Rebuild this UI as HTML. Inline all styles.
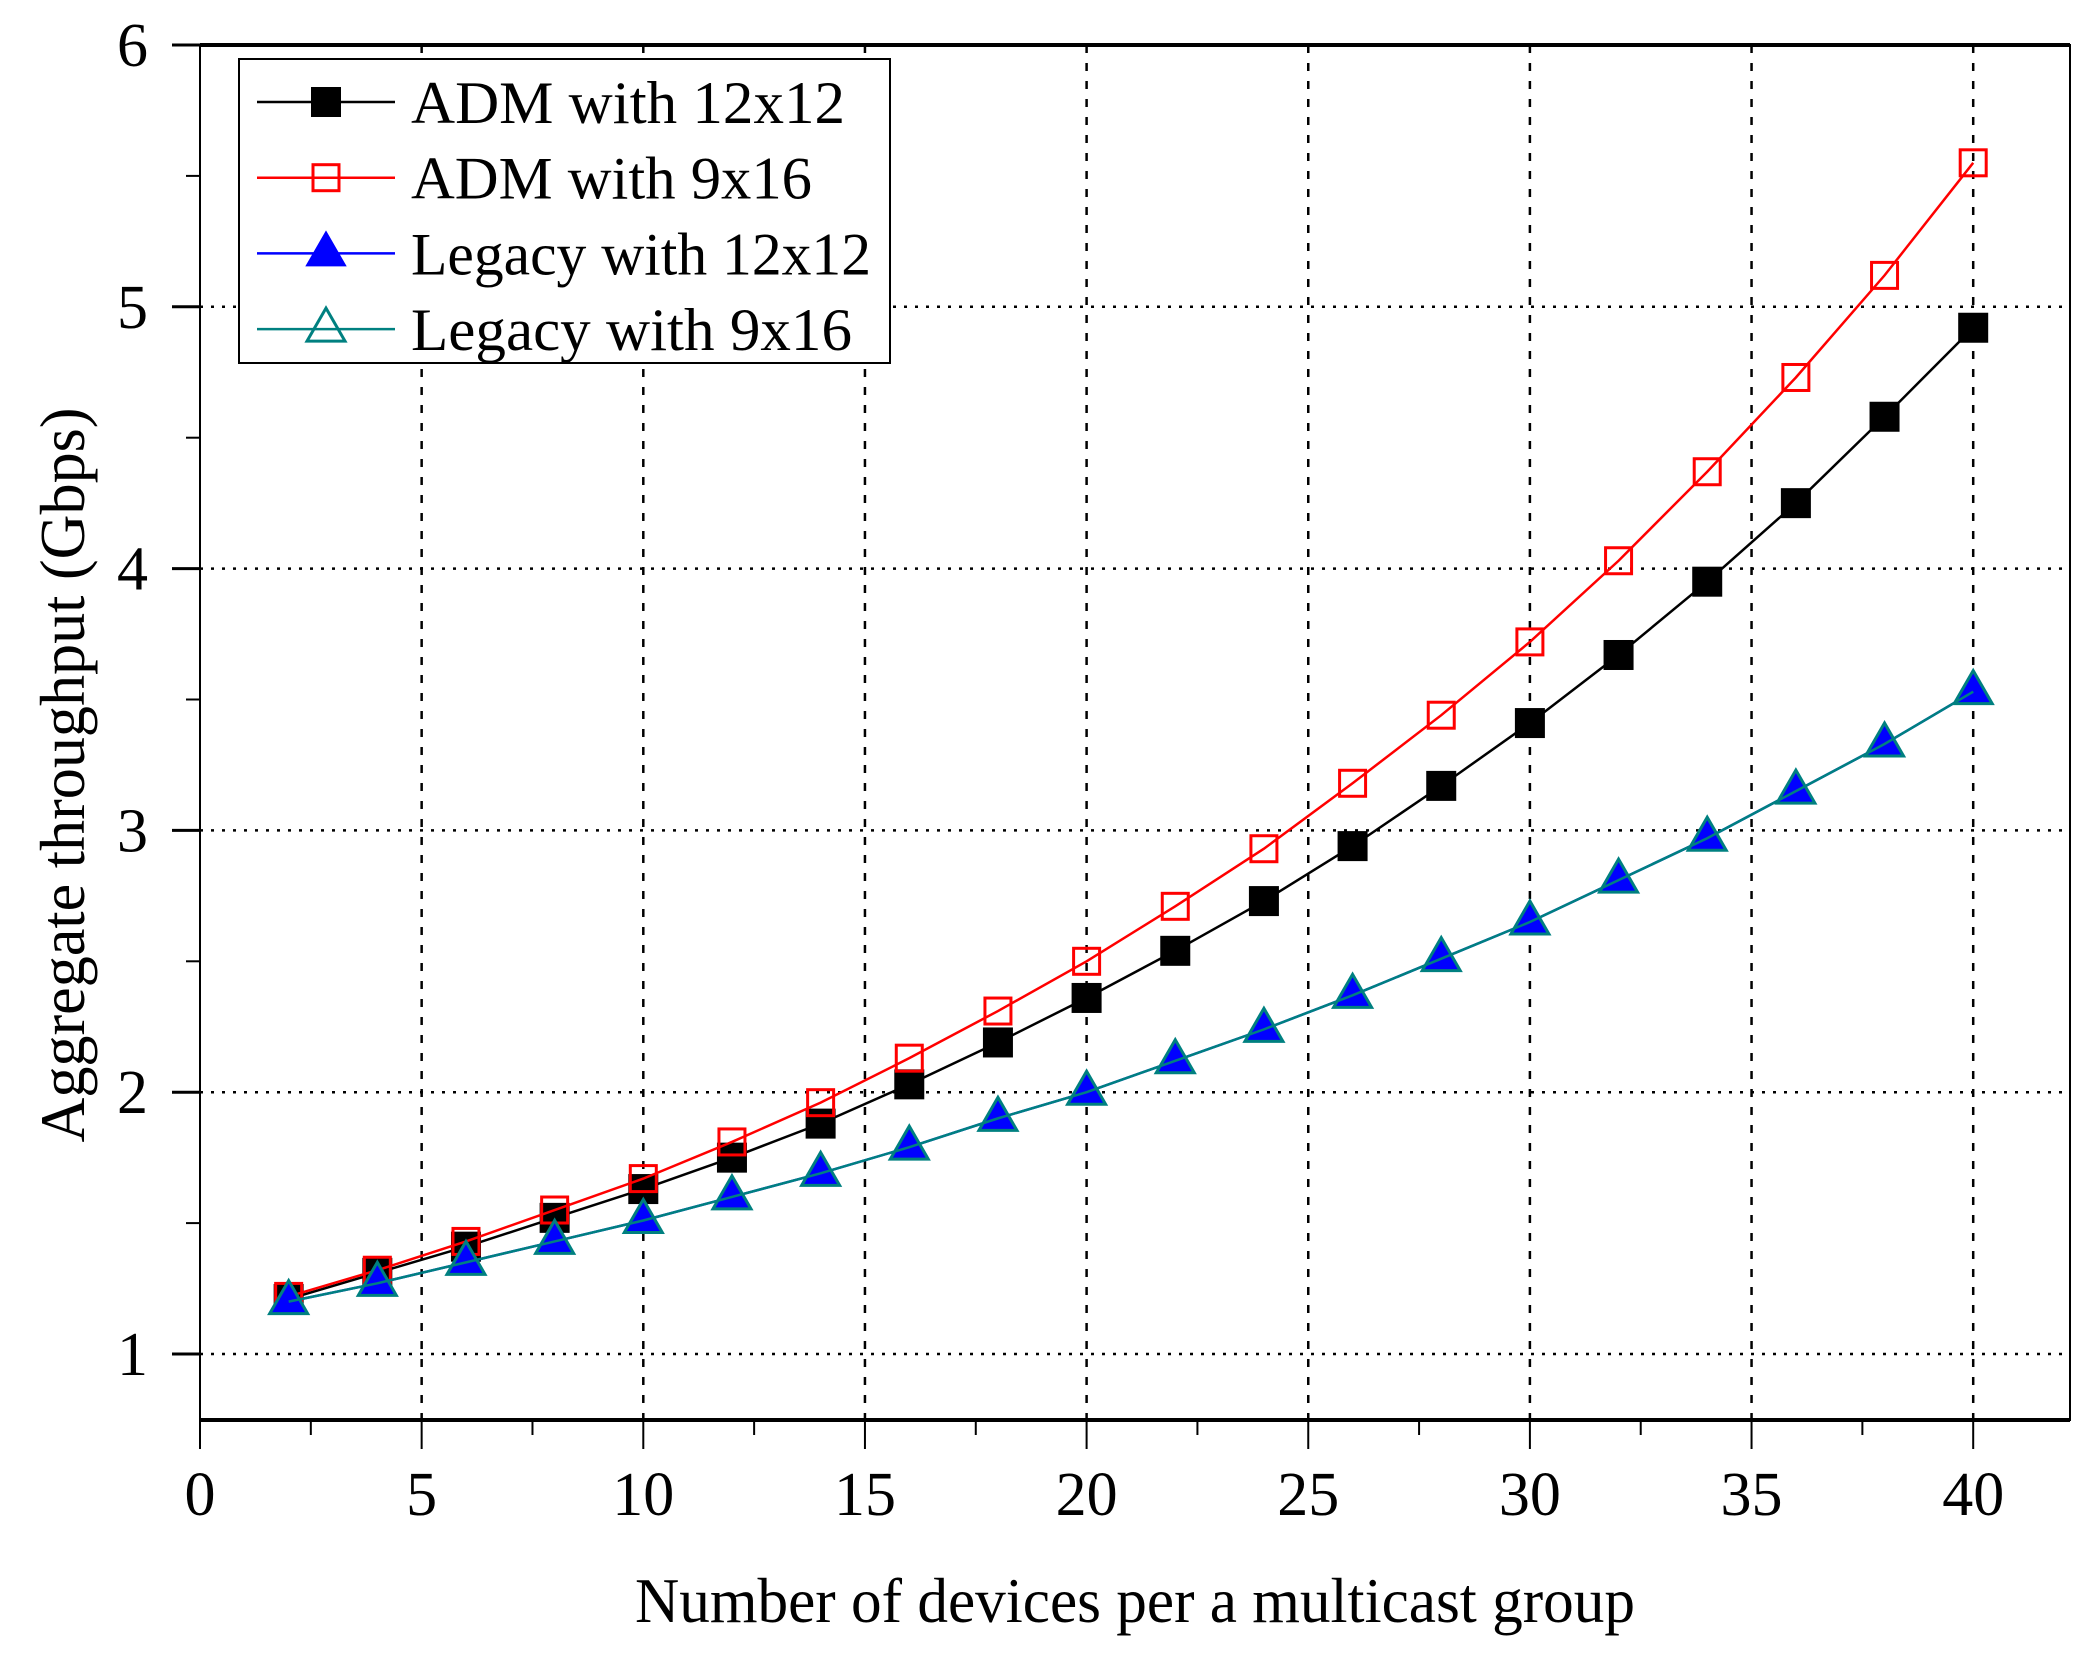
<!DOCTYPE html>
<html><head><meta charset="utf-8"><style>
html,body{margin:0;padding:0;background:#fff;}
svg{display:block;}
text{font-family:"Liberation Serif",serif;fill:#000;}
</style></head><body>
<svg id="chart" width="2088" height="1660" viewBox="0 0 2088 1660" xmlns="http://www.w3.org/2000/svg">
<g id="grid"></g>
<g id="axes"></g>
<g id="series"></g>
<g id="legend">
  <rect x="239" y="59" width="651" height="304" fill="#fff" stroke="#000" stroke-width="2"/>
</g>
<text x="1135" y="1622" font-size="64" text-anchor="middle" textLength="1000" lengthAdjust="spacingAndGlyphs">Number of devices per a multicast group</text>
<text transform="translate(84,775) rotate(-90)" font-size="64" text-anchor="middle" textLength="735" lengthAdjust="spacingAndGlyphs">Aggregate throughput (Gbps)</text>
</svg>
<script>
const xValues = [2,4,6,8,10,12,14,16,18,20,22,24,26,28,30,32,34,36,38,40];
const admA = [1.21,1.31,1.41,1.52,1.63,1.75,1.88,2.03,2.19,2.36,2.54,2.73,2.94,3.17,3.41,3.67,3.95,4.25,4.58,4.92];
const admB = [1.22,1.32,1.43,1.55,1.67,1.81,1.96,2.13,2.31,2.50,2.71,2.93,3.18,3.44,3.72,4.03,4.37,4.73,5.12,5.55];
const legA = [1.20,1.27,1.35,1.43,1.51,1.60,1.69,1.79,1.90,2.00,2.12,2.24,2.37,2.51,2.65,2.81,2.97,3.15,3.33,3.53];
const legB = [1.20,1.27,1.35,1.43,1.51,1.60,1.69,1.79,1.90,2.00,2.12,2.24,2.37,2.51,2.65,2.81,2.97,3.15,3.33,3.53];
const xTicks = [0,5,10,15,20,25,30,35,40];
const yTicks = [1,2,3,4,5,6];
const legendLabels = ["ADM with 12x12","ADM with 9x16","Legacy with 12x12","Legacy with 9x16"];

const NS="http://www.w3.org/2000/svg";
const L=200,R=2070,T=45,B=1420;
function xs(v){return 200+v*44.33;}
function ys(v){return 1354-(v-1)*261.8;}
function mk(tag,attrs,parent){const e=document.createElementNS(NS,tag);for(const k in attrs)e.setAttribute(k,attrs[k]);parent.appendChild(e);return e;}
const grid=document.getElementById('grid'),axes=document.getElementById('axes'),ser=document.getElementById('series'),leg=document.getElementById('legend');

yTicks.forEach(v=>{
  if(v<6){const g=mk('line',{x1:L,x2:R,y1:ys(v),y2:ys(v),stroke:'#000','stroke-width':2.5,'stroke-dasharray':'3 8'},grid);
  
  }
  const t=mk('line',{x1:L-28,x2:L,y1:ys(v),y2:ys(v),stroke:'#000','stroke-width':3},axes);
  
  
  const lb=mk('text',{x:148,y:ys(v)+21,'font-size':62,'text-anchor':'end'},axes);
  
  
  lb.textContent=v;
  if(v<6){const m=mk('line',{x1:L-14,x2:L,y1:ys(v+0.5),y2:ys(v+0.5),stroke:'#000','stroke-width':2},axes);
  
  }
});
xTicks.forEach(v=>{
  if(v>0){const g=mk('line',{x1:xs(v),x2:xs(v),y1:T,y2:B,stroke:'#000','stroke-width':2.5,'stroke-dasharray':'8 10'},grid);
  
  }
  const t=mk('line',{x1:xs(v),x2:xs(v),y1:B,y2:1449,stroke:'#000','stroke-width':2},axes);
  
  
  const lb=mk('text',{x:xs(v),y:1515,'font-size':62,'text-anchor':'middle'},axes);
  
  
  lb.textContent=v;
  if(v<40){const m=mk('line',{x1:xs(v+2.5),x2:xs(v+2.5),y1:B,y2:1435,stroke:'#000','stroke-width':2},axes);
  
  }
});
const frame=mk('rect',{x:L,y:T,width:R-L,height:B-T,fill:'none',stroke:'#000','stroke-width':2},axes);


const tl=mk('line',{x1:L,x2:R,y1:T,y2:T,stroke:'#000','stroke-width':4},axes);


const bl=mk('line',{x1:L,x2:R,y1:B,y2:B,stroke:'#000','stroke-width':4},axes);



function marker(type,cx,cy,parent){
  let e;
  if(type==='sq') e=mk('rect',{x:cx-14,y:cy-14,width:28,height:28,fill:'#000',stroke:'#000','stroke-width':2},parent);
  else if(type==='osq') e=mk('rect',{x:cx-13,y:cy-13,width:26,height:26,fill:'none',stroke:'#f00','stroke-width':3},parent);
  else if(type==='tri') e=mk('polygon',{points:`${cx},${cy-21} ${cx-19},${cy+12} ${cx+19},${cy+12}`,fill:'#00f',stroke:'#00f','stroke-width':2},parent);
  else e=mk('polygon',{points:`${cx},${cy-21} ${cx-19},${cy+12} ${cx+19},${cy+12}`,fill:'none',stroke:'#008080','stroke-width':3},parent);
  return e;
}
const seriesDefs=[
  {vals:admA,color:'#000',m:'sq',name:'adm-12x12'},
  {vals:admB,color:'#f00',m:'osq',name:'adm-9x16'},
  {vals:legA,color:'#00f',m:'tri',name:'legacy-12x12'},
  {vals:legB,color:'#008080',m:'otri',name:'legacy-9x16'}
];
seriesDefs.forEach((s,si)=>{
  const g=mk('g',{},ser);
  
  
  const pl=mk('polyline',{points:xValues.map((x,i)=>xs(x)+','+ys(s.vals[i])).join(' '),fill:'none',stroke:s.color,'stroke-width':2.5},g);
  
  
  xValues.forEach((x,i)=>{
    const p=marker(s.m,xs(x),ys(s.vals[i]),g);
    
    
  });
  const ly=102+si*75.7;
  const e=mk('g',{},leg);
  
  
  mk('line',{x1:257,x2:395,y1:ly,y2:ly,stroke:s.color,'stroke-width':2.5},e);
  marker(s.m,326,ly,e);
  const t=mk('text',{x:411,y:ly+21,'font-size':60,textLength:[434,401,460,441][si],lengthAdjust:'spacingAndGlyphs'},e);
  t.textContent=legendLabels[si];
});
</script>
</body></html>
